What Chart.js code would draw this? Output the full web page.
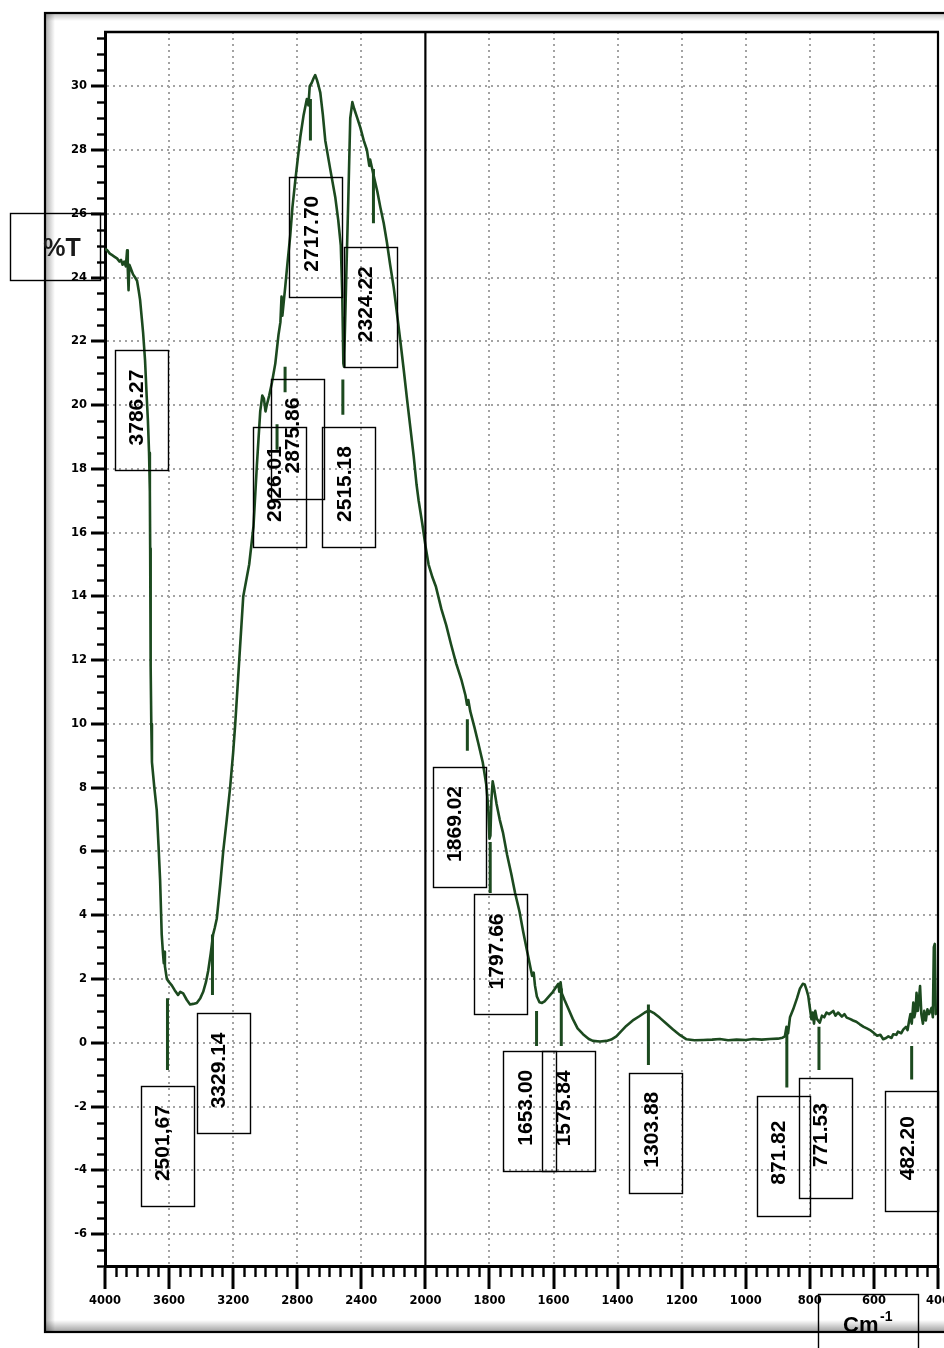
<!DOCTYPE html>
<html>
<head>
<meta charset="utf-8">
<title>IR spectrum</title>
<script src="https://cdn.jsdelivr.net/npm/chart.js@4.4.1/dist/chart.umd.min.js"></script>
<style>
  html, body { margin: 0; padding: 0; background: #fff; }
  #wrap { position: relative; width: 944px; height: 1348px; }
</style>
</head>
<body>
<div id="wrap"><canvas id="ir" width="944" height="1348"></canvas></div>
<script>
// Transmittance spectrum: wavenumber (cm-1) against %T
const wavenumbers = [
  4000, 3985, 3970, 3955, 3940, 3925, 3910, 3900, 3890, 3880, 3870, 3862, 3858, 3853, 3848, 3840,
  3825, 3812, 3800, 3790, 3781, 3770, 3762, 3750, 3740, 3732, 3725, 3720, 3718, 3716, 3714, 3711,
  3707, 3692, 3677, 3666, 3656, 3646, 3638, 3633, 3630, 3626, 3614, 3600, 3583, 3565, 3544, 3530,
  3512, 3490, 3469, 3450, 3427, 3405, 3387, 3370, 3356, 3340, 3325, 3315, 3302, 3280, 3262, 3240,
  3219, 3200, 3187, 3162, 3137, 3100, 3073, 3052, 3031, 3018, 3008, 2998, 2990, 2975, 2958, 2937,
  2917, 2905, 2898, 2893, 2885, 2875, 2860, 2844, 2830, 2813, 2795, 2781, 2760, 2740, 2730, 2722,
  2710, 2698, 2688, 2677, 2666, 2656, 2640, 2625, 2594, 2562, 2544, 2528, 2519, 2512, 2508, 2506,
  2494, 2481, 2469, 2456, 2445, 2425, 2406, 2385, 2365, 2350, 2345, 2323, 2300, 2281, 2260, 2240,
  2220, 2198, 2178, 2156, 2135, 2115, 2094, 2073, 2055, 2042, 2020, 2000,
  1990, 1978, 1967, 1950, 1935, 1920, 1904, 1888, 1875, 1870, 1866, 1860, 1847, 1835, 1821, 1810,
  1804, 1800, 1797, 1794, 1790, 1786, 1778, 1768, 1758, 1745, 1732, 1720, 1706, 1695, 1685, 1675,
  1667, 1662, 1658, 1652, 1644, 1636, 1628, 1615, 1602, 1592, 1585, 1582, 1578, 1574, 1566, 1555,
  1540, 1525, 1508, 1490, 1477, 1455, 1435, 1420, 1404, 1390, 1373, 1350, 1331, 1315, 1305, 1300,
  1285, 1269, 1250, 1227, 1205, 1185, 1160, 1133, 1105, 1081, 1055, 1029, 1000, 977, 950, 925,
  900, 885, 878, 873, 868, 862, 852, 840, 831, 822, 816, 810, 805, 800, 795, 791,
  787, 783, 778, 769, 762, 755, 748, 740, 727, 720, 712, 700, 692, 685, 675, 665,
  655, 644, 632, 622, 612, 602, 590, 580, 571, 562, 555, 545, 540, 530, 525, 515,
  508, 500, 495, 490, 486, 482, 477, 474, 470, 467, 463, 460, 456, 452, 447, 443,
  438, 433, 428, 420, 416, 413, 410, 407, 403, 400
];
const transmittance = [
  24.9, 24.85, 24.75, 24.7, 24.65, 24.6, 24.5, 24.55, 24.4, 24.5, 24.35, 24.85, 24.3, 23.6, 24.4, 24.3,
  24.1, 24.0, 23.9, 23.6, 23.3, 22.7, 22.26, 21.4, 20.3, 19.5, 18.5, 17.3, 15.5, 13.5, 11.8, 10.0,
  8.8, 8.0, 7.3, 6.2, 5.1, 3.4, 2.8, 2.5, 2.85, 2.4, 2.0, 1.9, 1.8, 1.65, 1.5, 1.6,
  1.55, 1.35, 1.2, 1.22, 1.25, 1.4, 1.6, 1.9, 2.25, 2.8, 3.4, 3.6, 3.9, 5.0, 6.0, 7.0,
  8.0, 9.1, 10.0, 12.0, 14.0, 15.0, 16.2, 18.1, 19.8, 20.3, 20.2, 19.8, 20.0, 20.3, 20.7, 21.3,
  22.2, 22.6, 23.4, 22.8, 23.2, 23.7, 24.5, 25.3, 26.2, 27.0, 27.8, 28.4, 29.1, 29.6, 29.4, 30.0,
  30.1, 30.25, 30.35, 30.2, 30.0, 29.8, 29.1, 28.3, 27.4, 26.5, 25.8, 25.0, 23.5, 21.3, 21.2, 21.6,
  24.0, 26.5, 29.0, 29.5, 29.3, 29.0, 28.7, 28.3, 28.0, 27.5, 27.7, 27.2, 26.7, 26.2, 25.7, 25.1,
  24.4, 23.7, 22.9, 22.0, 21.1, 20.2, 19.3, 18.4, 17.5, 17.0, 16.3, 15.6,
  15.0, 14.6, 14.3, 13.6, 13.1, 12.5, 11.9, 11.4, 10.9, 10.6, 10.75, 10.4, 9.9, 9.4, 8.8, 8.1,
  7.4, 6.4, 6.5, 7.6, 8.2, 8.0, 7.5, 7.0, 6.6, 5.9, 5.3, 4.7, 4.1, 3.5, 3.0, 2.5,
  2.1, 2.2, 1.8, 1.45, 1.27, 1.25, 1.3, 1.45, 1.6, 1.75, 1.85, 1.6, 1.9, 1.55, 1.35, 1.1,
  0.75, 0.45, 0.27, 0.12, 0.06, 0.04, 0.06, 0.1, 0.2, 0.35, 0.53, 0.72, 0.84, 0.95, 1.0, 1.0,
  0.92, 0.79, 0.62, 0.42, 0.24, 0.11, 0.08, 0.09, 0.1, 0.12, 0.08, 0.1, 0.09, 0.12, 0.1, 0.12,
  0.13, 0.16, 0.2, 0.5, 0.3, 0.8, 1.05, 1.4, 1.7, 1.85, 1.83, 1.65, 1.47, 1.1, 0.74, 0.95,
  0.6, 1.0, 0.75, 0.63, 0.85, 0.8, 0.95, 0.9, 1.0, 0.85, 0.95, 0.82, 0.9, 0.79, 0.75, 0.7,
  0.66, 0.58, 0.5, 0.45, 0.4, 0.32, 0.22, 0.25, 0.11, 0.15, 0.2, 0.15, 0.27, 0.25, 0.35, 0.3,
  0.42, 0.5, 0.4, 0.7, 0.9, 0.6, 1.26, 0.8, 1.0, 1.57, 1.0, 1.3, 1.78, 0.9, 0.6, 1.0,
  0.7, 1.05, 0.9, 1.1, 0.8, 3.0, 3.1, 0.9, 1.0, 0.9
];

// Axis ticks
const xTickValues = [4000, 3600, 3200, 2800, 2400, 2000, 1800, 1600, 1400, 1200, 1000, 800, 600, 400];
const yTickValues = [-6, -4, -2, 0, 2, 4, 6, 8, 10, 12, 14, 16, 18, 20, 22, 24, 26, 28, 30];

// Peak labels
const peakLabels = ['3786.27', '2717.70', '2324.22', '2875.86', '2926.01', '2515.18', '1869.02', '1797.66',
                    '1653.00', '1575.84', '1303.88', '871.82', '771.53', '482.20', '2501,67', '3329.14'];

// Peak marker strokes: wavenumber, upper and lower %T
const markerWn     = [2926.01, 2875.86, 2717.70, 2515.18, 2324.22, 3329.14, 3610, 1869.02, 1797.66, 1653.00, 1575.84, 1303.88, 871.82, 771.53, 482.20];
const markerTop    = [19.4,    21.2,    29.6,    20.8,    27.4,    3.4,     1.4,  10.15,   6.3,     1.0,     1.7,     1.2,     0.3,    0.5,    -0.1];
const markerBottom = [18.6,    20.4,    28.3,    19.7,    25.7,    1.5,     -0.85, 9.16,   4.7,     -0.1,    -0.1,    -0.7,    -1.4,   -0.85,  -1.15];

// Where each label box sits (centre, in axis units)
const labelBoxAnchors = [
  { wn: 3775, t: 19.83 }, { wn: 2684, t: 25.28 }, { wn: 2344, t: 23.07 }, { wn: 2800, t: 18.95 },
  { wn: 2912, t: 17.43 }, { wn: 2478, t: 17.43 }, { wn: 1894, t: 6.77 },  { wn: 1764, t: 2.77 },
  { wn: 1674, t: -2.13 }, { wn: 1554, t: -2.15 }, { wn: 1281, t: -2.82 }, { wn: 883, t: -3.54 },
  { wn: 751, t: -2.99 },  { wn: 482, t: -3.40 },  { wn: 3609, t: -3.24 }, { wn: 3259, t: -0.96 }
];

// The wavenumber axis changes scale at 2000 cm-1 (400 per division above, 200 per division below)
function wnToPos(wn) { return wn >= 2000 ? (4000 - wn) / 400 : 5 + (2000 - wn) / 200; }
function posToWn(p) { return p <= 5 ? 4000 - p * 400 : 2000 - (p - 5) * 200; }

const LINE_GREEN = '#1c4a1f';
const spectrum = wavenumbers.map((w, i) => ({ x: wnToPos(w), y: transmittance[i] }));
const markerSets = markerWn.map((w, i) => ({
  data: [{ x: wnToPos(w), y: markerTop[i] }, { x: wnToPos(w), y: markerBottom[i] }],
  borderColor: LINE_GREEN, borderWidth: 3, pointRadius: 0, fill: false
}));

function seg(c, x1, y1, x2, y2) { c.beginPath(); c.moveTo(x1, y1); c.lineTo(x2, y2); c.stroke(); }

// Outer panel with soft edge shading
const panelFrame = {
  id: 'panelFrame',
  beforeDraw(chart) {
    const c = chart.ctx;
    c.save();
    c.fillStyle = '#fff';
    c.fillRect(0, 0, chart.width, chart.height);
    let g = c.createLinearGradient(46, 0, 55, 0);
    g.addColorStop(0, 'rgba(0,0,0,0.30)'); g.addColorStop(1, 'rgba(0,0,0,0)');
    c.fillStyle = g; c.fillRect(46, 14, 9, 1317);
    g = c.createLinearGradient(0, 14, 0, 21);
    g.addColorStop(0, 'rgba(0,0,0,0.22)'); g.addColorStop(1, 'rgba(0,0,0,0)');
    c.fillStyle = g; c.fillRect(46, 14, 900, 7);
    g = c.createLinearGradient(0, 1331, 0, 1320);
    g.addColorStop(0, 'rgba(0,0,0,0.35)'); g.addColorStop(1, 'rgba(0,0,0,0)');
    c.fillStyle = g; c.fillRect(46, 1320, 900, 11);
    c.strokeStyle = '#000'; c.lineWidth = 2.2;
    c.strokeRect(45, 13, 960, 1319);
    c.restore();
  },
  afterDatasetsDraw(chart) {
    const { ctx: c, chartArea: a, scales: { x } } = chart;
    c.save();
    c.strokeStyle = '#000';
    c.lineWidth = 2.6; seg(c, a.left - 1, a.top, a.right + 1, a.top);
    c.lineWidth = 2.2; seg(c, a.right, a.top, a.right, a.bottom);
    const xs = x.getPixelForValue(wnToPos(2000));
    c.lineWidth = 2.2; seg(c, xs, a.top, xs, a.bottom);
    c.restore();
  }
};

// Minor tick marks on both axes
const minorTicks = {
  id: 'minorTicks',
  afterDraw(chart) {
    const { ctx: c, chartArea: a, scales: { x, y } } = chart;
    c.save();
    c.strokeStyle = '#000'; c.lineWidth = 2.4;
    for (let k = -14; k <= 63; k++) {
      if (k % 4 === 0) continue;
      const py = Math.round(y.getPixelForValue(k / 2)) + 0.5;
      if (py < a.top - 1) continue;
      seg(c, a.left - 8, py, a.left, py);
    }
    for (let k = 1; k < 78; k++) {
      if (k % 6 === 0) continue;
      const px = Math.round(x.getPixelForValue(k / 6)) + 0.5;
      seg(c, px, a.bottom, px, a.bottom + 11);
    }
    c.restore();
  }
};

// Boxed peak labels and axis titles
const BOX_W = 53, BOX_H = 120;
const labelBoxes = {
  id: 'labelBoxes',
  afterDraw(chart) {
    const { ctx: c, chartArea: a, scales: { x, y } } = chart;
    c.save();
    c.strokeStyle = '#000'; c.lineWidth = 1.4; c.fillStyle = '#000';
    c.font = 'bold 21px "Liberation Sans", Arial, sans-serif';
    peakLabels.forEach((txt, i) => {
      const an = labelBoxAnchors[i];
      const cx = x.getPixelForValue(wnToPos(an.wn));
      const cy = y.getPixelForValue(an.t);
      c.strokeRect(Math.round(cx - BOX_W / 2) + 0.5, Math.round(cy - BOX_H / 2) + 0.5, BOX_W, BOX_H);
      c.save();
      c.translate(cx - 4, cy - 3);
      c.rotate(-Math.PI / 2);
      c.textAlign = 'center'; c.textBaseline = 'middle';
      c.fillText(txt, 0, 0);
      c.restore();
    });
    // %T title box
    const tTop = a.top + 181;
    c.strokeRect(10.5, tTop + 0.5, 90, 67);
    c.font = 'bold 25px "Liberation Sans", Arial, sans-serif';
    c.textAlign = 'center'; c.textBaseline = 'middle';
    c.fillStyle = '#1a1a1a';
    c.fillText('%T', 62, tTop + 36);
    // Cm-1 title box
    const cTop = a.bottom + 28;
    c.strokeRect(a.right - 120 + 0.5, cTop + 0.5, 100, 80);
    c.fillStyle = '#000';
    c.textAlign = 'left'; c.textBaseline = 'alphabetic';
    c.font = 'bold 22px "Liberation Sans", Arial, sans-serif';
    c.fillText('Cm', a.right - 95, cTop + 38);
    c.font = 'bold 14px "Liberation Sans", Arial, sans-serif';
    c.fillText('-1', a.right - 58, cTop + 27);
    c.restore();
  }
};

const tickFont = { family: '"DejaVu Sans", sans-serif', weight: 'bold', size: 11.5 };
const isEdgeOrSplit = v => [0, 5, 13].some(p => Math.abs(v - p) < 1e-6);

new Chart(document.getElementById('ir'), {
  type: 'line',
  data: {
    datasets: [
      { data: spectrum, borderColor: LINE_GREEN, borderWidth: 2.6, pointRadius: 0, fill: false, tension: 0, borderJoinStyle: 'round' },
      ...markerSets
    ]
  },
  options: {
    responsive: false,
    animation: false,
    devicePixelRatio: 1,
    layout: { padding: { left: 0, top: 32, right: 6, bottom: 0 } },
    plugins: { legend: { display: false }, tooltip: { enabled: false }, title: { display: false } },
    scales: {
      x: {
        type: 'linear', min: 0, max: 13,
        afterBuildTicks: s => { s.ticks = xTickValues.map(w => ({ value: wnToPos(w) })); },
        afterFit: s => { s.height = 82; s.paddingLeft = 0; s.paddingRight = 0; },
        ticks: {
          callback: v => String(Math.round(posToWn(v))),
          font: tickFont, color: '#000', padding: 5, maxRotation: 0, minRotation: 0, autoSkip: false
        },
        grid: {
          color: ctx => (ctx.tick && isEdgeOrSplit(ctx.tick.value)) ? 'rgba(0,0,0,0)' : '#a3a3a3',
          lineWidth: 2, drawTicks: true, tickLength: 23, tickWidth: 3, tickColor: '#000', tickBorderDash: []
        },
        border: { display: true, color: '#000', width: 3, dash: [2, 4] }
      },
      y: {
        type: 'linear', min: -7, max: 31.7,
        afterBuildTicks: s => { s.ticks = yTickValues.map(v => ({ value: v })); },
        afterFit: s => { s.width = 105; },
        ticks: { font: tickFont, color: '#000', padding: 4, autoSkip: false },
        grid: {
          color: '#a3a3a3', lineWidth: 2, drawTicks: true, tickLength: 14, tickWidth: 3, tickColor: '#000', tickBorderDash: []
        },
        border: { display: true, color: '#000', width: 3, dash: [2, 4] }
      }
    }
  },
  plugins: [panelFrame, minorTicks, labelBoxes]
});
</script>
</body>
</html>
